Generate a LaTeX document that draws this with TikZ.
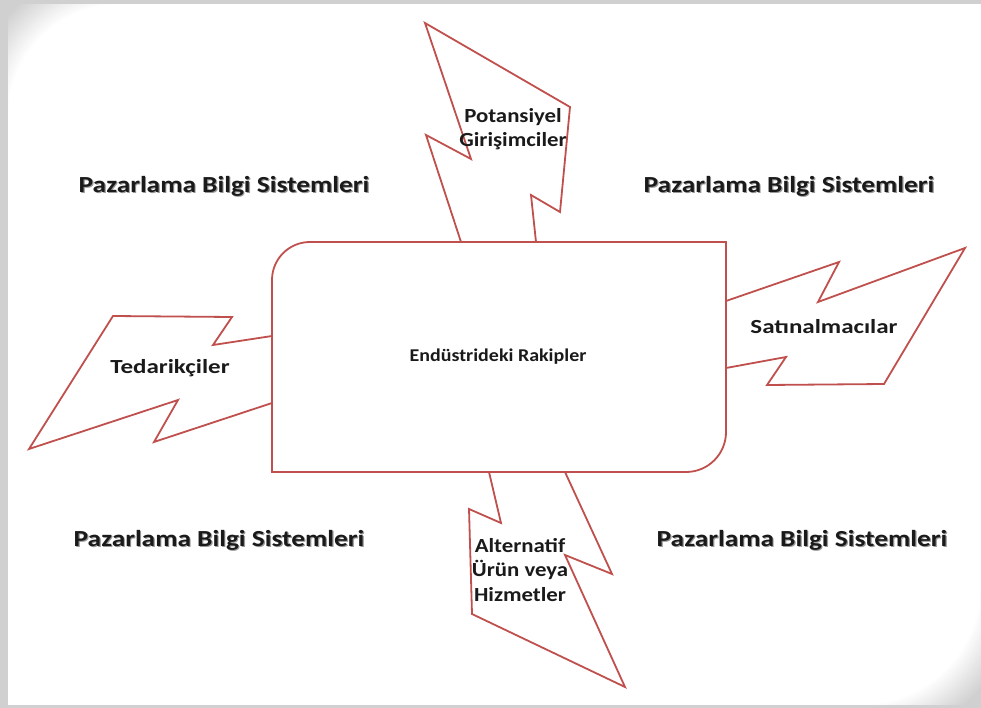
\documentclass[tikz,border=0pt]{standalone}
\usepackage{fontspec}
\setmainfont{Carlito}
\definecolor{edge}{HTML}{C0504D}
\definecolor{bg}{HTML}{D0D0D0}
\definecolor{ink}{HTML}{1A1A1A}
\tikzset{
  bolt/.style={draw=edge, line width=1.8pt, line join=miter},
  sidelabel/.style={font=\fontsize{20}{24}\selectfont\bfseries, text=ink, align=center, inner sep=0pt, xscale=1.25},
  boltlabel/.style={font=\fontsize{20}{24.5}\selectfont\bfseries, text=ink, align=center, inner sep=0pt, xscale=1.14},
  pbs/.style={font=\fontsize{23}{27}\selectfont\bfseries, text=ink, inner sep=0pt, xscale=1.19},
  pbsshadow/.style={pbs, text=black!40},
}
% page-shaped panel with two rounded diagonal corners
\def\panelpath{(8,116) arc[start angle=180, end angle=270, radius=112] -- (1000,4) -- (1000,585)
  -- (981,585) arc[start angle=0, end angle=90, radius=120] -- (8,705) -- cycle}
\begin{document}
\begin{tikzpicture}[x=1pt, y=-1pt]
\useasboundingbox (0,0) rectangle (981,708);
\fill[bg] (0,0) rectangle (981,708);
% soft glow around the panel
\foreach \i in {0,...,19}{
  \pgfmathsetmacro\w{2*(40-2*\i)}
  \pgfmathsetmacro\p{5*\i}
  \draw[line width=\w pt, color=white!\p!bg] \panelpath;
}
\fill[white] \panelpath;
\fill[white] (850,4) rectangle (990,585);
% grey border strips
\fill[bg] (0,0) rectangle (981,4);
\fill[bg] (0,0) rectangle (8,708);
\fill[bg] (0,705) rectangle (981,708);

% four bolts attached to the central box
\draw[bolt] (461,242) -- (426,135) -- (471,159) -- (425,23) -- (570,107) -- (560,212) -- (531,195) -- (536,242);
\draw[bolt] (726,301) -- (839,262) -- (818,302) -- (965,248) -- (884,384) -- (767,385) -- (786,357) -- (726,368);
\draw[bolt] (272,336) -- (213,345) -- (232,317) -- (113,316) -- (29,449) -- (178,400) -- (154,442) -- (272,403);
\draw[bolt] (489,472) -- (501,523) -- (469,509) -- (472,614) -- (625,687) -- (565,555) -- (612,574) -- (565,472);

% central box: rounded top-left and bottom-right corners
\draw[bolt] (272,280) arc[start angle=180, end angle=270, radius=38] -- (726,242) -- (726,432)
  arc[start angle=0, end angle=90, radius=40] -- (272,472) -- cycle;
\node[font=\fontsize{18}{21}\selectfont\bfseries, text=ink, inner sep=0pt, xscale=1.11] (rakip) at (498,357) {Endüstrideki Rakipler};

\node[boltlabel] (potansiyel) at (513,129) {Potansiyel\\Girişimciler};
\node[sidelabel] (satin) at (824,327) {Satınalmacılar};
\node[sidelabel] (tedarik) at (170,368) {Tedarikçiler};
\node[boltlabel] (alternatif) at (520,570) {Alternatif\\Ürün veya\\Hizmetler};

% corner captions with a light shadow
\foreach \n/\x/\y in {pbsa/224/186, pbsb/789/186, pbsc/219/540, pbsd/802/540}{
  \node[pbsshadow] at (\x+1.2,\y+1.2) {Pazarlama Bilgi Sistemleri};
  \node[pbs] (\n) at (\x,\y) {Pazarlama Bilgi Sistemleri};
}
% keep the right margin of the panel white above the shaded corner
\fill[white] (970,4) rectangle (981,585);
\end{tikzpicture}
\end{document}
